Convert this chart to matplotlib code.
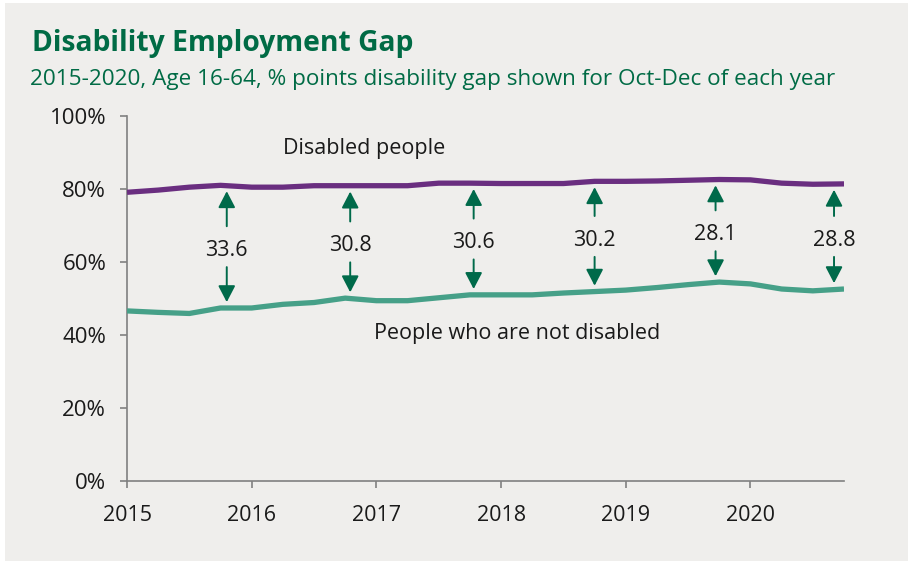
import numpy as np
import matplotlib
matplotlib.use("Agg")
import matplotlib.pyplot as plt
from matplotlib.patches import Rectangle

# Quarterly employment rates (%), Jan-Mar 2015 to Oct-Dec 2020
quarters = 2015 + 0.25 * np.arange(24)
disabled_people = [79.1, 79.7, 80.5, 81.0, 80.5, 80.5, 80.9, 80.9, 80.9, 80.9, 81.6, 81.6,
                   81.5, 81.5, 81.5, 82.1, 82.1, 82.2, 82.4, 82.6, 82.5, 81.6, 81.3, 81.4]
not_disabled = [46.6, 46.2, 45.9, 47.4, 47.4, 48.4, 48.9, 50.1, 49.4, 49.4, 50.2, 51.0,
                51.0, 51.0, 51.5, 51.9, 52.3, 53.0, 53.8, 54.5, 54.0, 52.6, 52.1, 52.6]

# Oct-Dec quarters where the gap is annotated, and where each annotation sits
gap_quarter_index = [3, 7, 11, 15, 19, 23]
gap_label_x = [2015.80, 2016.79, 2017.78, 2018.75, 2019.72, 2020.67]

year_ticks = [2015, 2016, 2017, 2018, 2019, 2020]
pct_ticks = [0, 20, 40, 60, 80, 100]

BG = "#EFEEEC"
PURPLE = "#6A2E80"
TEAL = "#46A088"
DARK_GREEN = "#006A4A"
TITLE_GREEN = "#006B45"
AXIS_GREY = "#808080"
TEXT = "#1A1A1A"
FONT = ["Open Sans", "DejaVu Sans"]

fig = plt.figure(figsize=(9.11, 5.61), dpi=100, facecolor="white")
fig.patches.append(Rectangle((5 / 911, 0), 903 / 911, 1 - 3 / 561,
                             transform=fig.transFigure, facecolor=BG,
                             edgecolor="none", zorder=-10))

ax = fig.add_axes([127 / 911, 1 - 481 / 561, (844 - 127) / 911, (481 - 116) / 561])
ax.set_facecolor("none")

ax.plot(quarters, disabled_people, color=PURPLE, lw=3.8, solid_capstyle="butt", zorder=3)
ax.plot(quarters, not_disabled, color=TEAL, lw=3.8, solid_capstyle="butt", zorder=3)

ax.set_xlim(2015, 2020.75)
ax.set_ylim(0, 100)
ax.set_xticks(year_ticks)
ax.set_xticklabels([str(y) for y in year_ticks])
ax.set_yticks(pct_ticks)
ax.set_yticklabels([f"{p}%" for p in pct_ticks])

for side in ("top", "right"):
    ax.spines[side].set_visible(False)
for side in ("left", "bottom"):
    ax.spines[side].set_color(AXIS_GREY)
    ax.spines[side].set_linewidth(1.2)
ax.tick_params(axis="both", colors=AXIS_GREY, length=5, width=1.2,
               labelcolor=TEXT, labelsize=15.5)
ax.tick_params(axis="x", pad=12)
ax.tick_params(axis="y", labelsize=16, pad=10)
for lab in ax.get_xticklabels() + ax.get_yticklabels():
    lab.set_fontfamily(FONT)

# Gap annotations: value between two arrows pointing at each line
arrow_style = dict(arrowstyle="-|>,head_length=1.0,head_width=0.52",
                   mutation_scale=10, color=DARK_GREEN, lw=1.4,
                   shrinkA=0, shrinkB=0)
for idx, gx in zip(gap_quarter_index, gap_label_x):
    top = disabled_people[idx]
    bottom = not_disabled[idx]
    gap = top - bottom
    ly = (top + bottom) / 2 - 1.0
    ax.text(gx, ly, f"{gap:.1f}", ha="center", va="center", fontsize=15.5,
            color=TEXT, family=FONT, zorder=4)
    ax.annotate("", xy=(gx, top - 1.6), xytext=(gx, ly + 6.6),
                arrowprops=arrow_style, zorder=4)
    ax.annotate("", xy=(gx, bottom + 1.6), xytext=(gx, ly - 4.6),
                arrowprops=arrow_style, zorder=4)

ax.text(2016.9, 91.2, "Disabled people", ha="center", va="center", fontsize=15.5,
        color=TEXT, family=FONT)
ax.text(2018.13, 40.5, "People who are not disabled", ha="center", va="center",
        fontsize=15.5, color=TEXT, family=FONT)

fig.text(32 / 911, 1 - 43 / 561, "Disability Employment Gap", ha="left", va="center",
         fontsize=20.3, fontweight="bold", color=TITLE_GREEN, family=FONT)
fig.text(30 / 911, 1 - 79 / 561,
         "2015-2020, Age 16-64, % points disability gap shown for Oct-Dec of each year",
         ha="left", va="center", fontsize=16.2, color=TITLE_GREEN, family=FONT)

fig.savefig("out.png", dpi=100, facecolor="white")
